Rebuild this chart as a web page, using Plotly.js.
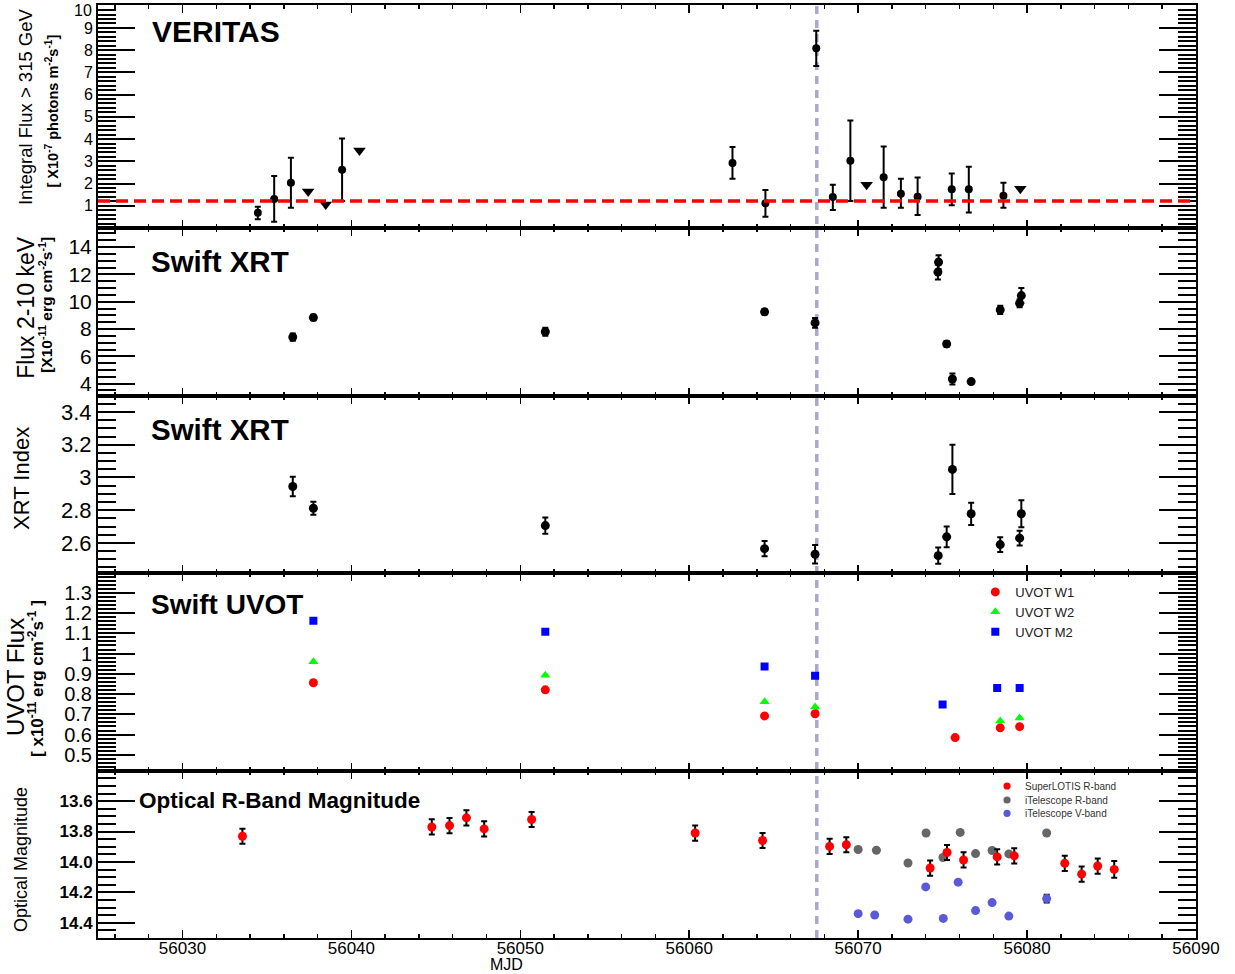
<!DOCTYPE html>
<html>
<head>
<meta charset="utf-8">
<script src="https://cdn.plot.ly/plotly-3.0.1.min.js"></script>
<style>html,body{margin:0;padding:0;background:#fff;}#chart{width:1235px;height:974px;}</style>
</head>
<body>
<div id="chart"></div>
<script>
// ---------------- DATA ----------------
// VERITAS integral flux > 315 GeV [1e-7 photons m^-2 s^-1]
const vtsX = [56034.46, 56035.43, 56036.42, 56039.45, 56062.56, 56064.51, 56067.52, 56068.50, 56069.54, 56071.51, 56072.53, 56073.52, 56075.54, 56076.55, 56078.60];
const vtsY = [0.68, 1.30, 2.03, 2.62, 2.92, 1.11, 8.09, 1.39, 3.02, 2.28, 1.54, 1.41, 1.74, 1.74, 1.45];
const vtsErrUp = [0.28, 1.04, 1.13, 1.40, 0.72, 0.60, 0.78, 0.56, 1.81, 1.39, 0.67, 0.86, 0.71, 1.02, 0.59];
const vtsErrDn = [0.29, 1.02, 1.12, 1.41, 0.70, 0.61, 0.80, 0.58, 1.81, 1.37, 0.63, 0.83, 0.72, 1.04, 0.54];
const vtsUlX = [56037.44, 56038.48, 56040.48, 56070.50, 56079.60];
const vtsUlY = [1.64, 1.06, 3.49, 1.94, 1.77];
const vtsBaseline = 1.21;
const flareMJD = 56067.55;
const vtsTicks = [1, 2, 3, 4, 5, 6, 7, 8, 9, 10];
const vtsTickText = ['1', '2', '3', '4', '5', '6', '7', '8', '9', ''];
const vtsTopLabel = '10';

// Swift XRT flux 2-10 keV [1e-11 erg cm^-2 s^-1]
const xrtX = [56036.53, 56037.75, 56051.48, 56064.46, 56067.45, 56074.76, 56074.72, 56075.24, 56075.58, 56076.69, 56078.41, 56079.56, 56079.66];
const xrtFlux = [7.41, 8.84, 7.80, 9.26, 8.45, 12.90, 12.17, 6.91, 4.34, 4.15, 9.40, 9.89, 10.45];
const xrtFluxErr = [0.27, 0.20, 0.30, 0.20, 0.35, 0.50, 0.55, 0.22, 0.40, 0.12, 0.30, 0.30, 0.55];

// Swift XRT photon index
const idxX = [56036.53, 56037.75, 56051.48, 56064.46, 56067.45, 56074.74, 56075.24, 56075.58, 56076.69, 56078.41, 56079.56, 56079.66];
const xrtIdx = [2.945, 2.812, 2.706, 2.565, 2.531, 2.522, 2.637, 3.049, 2.778, 2.590, 2.629, 2.778];
const xrtIdxErr = [0.060, 0.040, 0.050, 0.046, 0.057, 0.050, 0.063, 0.150, 0.068, 0.045, 0.045, 0.083];

// Swift UVOT flux [1e-11 erg cm^-2 s^-1]
const w1X = [56037.75, 56051.48, 56064.46, 56067.45, 56075.74, 56078.41, 56079.56];
const w1Y = [0.856, 0.821, 0.692, 0.703, 0.585, 0.633, 0.639];
const w2X = [56037.75, 56051.48, 56064.46, 56067.45, 56078.41, 56079.56];
const w2Y = [0.959, 0.893, 0.762, 0.736, 0.667, 0.682];
const m2X = [56037.75, 56051.48, 56064.46, 56067.45, 56075.00, 56078.23, 56079.56];
const m2Y = [1.162, 1.108, 0.936, 0.890, 0.749, 0.830, 0.830];

// Optical magnitudes
const slX = [56033.55, 56044.76, 56045.81, 56046.81, 56047.86, 56050.67, 56060.35, 56064.34, 56068.31, 56069.30, 56074.26, 56075.26, 56076.24, 56078.23, 56079.24, 56082.23, 56083.23, 56084.18, 56085.16];
const slY = [13.831, 13.770, 13.761, 13.710, 13.783, 13.721, 13.810, 13.859, 13.898, 13.887, 14.040, 13.938, 13.987, 13.967, 13.960, 14.009, 14.080, 14.027, 14.049];
const slErr = [0.05, 0.05, 0.05, 0.05, 0.05, 0.05, 0.05, 0.05, 0.05, 0.05, 0.05, 0.05, 0.05, 0.05, 0.05, 0.05, 0.05, 0.05, 0.055];
const itRX = [56070.00, 56071.08, 56072.95, 56074.02, 56075.02, 56076.04, 56076.95, 56077.93, 56078.92, 56081.16];
const itRY = [13.918, 13.923, 14.007, 13.810, 13.971, 13.806, 13.945, 13.925, 13.947, 13.810];
const itRErr = [0, 0, 0, 0, 0.01, 0, 0.01, 0, 0.012, 0.012];
const itVX = [56070.00, 56070.98, 56072.95, 56074.00, 56075.04, 56075.92, 56076.95, 56077.93, 56078.92, 56081.16];
const itVY = [14.340, 14.349, 14.376, 14.164, 14.371, 14.133, 14.320, 14.267, 14.356, 14.241];
const itVErr = [0, 0, 0, 0, 0, 0.012, 0, 0, 0.01, 0.025];

// Optical legend entries (name, colour)
const optNames = ['SuperLOTIS R-band', 'iTelescope R-band', 'iTelescope V-band'];
const optColors = ['#ff0000', '#666666', '#5a5ad8'];

// ---------------- STYLE ----------------
const FONT = 'Liberation Sans, Arial, Helvetica, sans-serif';
function eb(up, dn) {
  const o = {type: 'data', array: up, color: '#000', thickness: 2, width: 3, visible: true};
  if (dn) { o.symmetric = false; o.arrayminus = dn; }
  return o;
}
const traces = [
  {x: vtsX, y: vtsY, xaxis: 'x', yaxis: 'y', type: 'scatter', mode: 'markers', showlegend: false,
   marker: {color: '#000', size: 8, symbol: 'circle'}, error_y: eb(vtsErrUp, vtsErrDn)},
  {x: vtsUlX, y: vtsUlY, xaxis: 'x', yaxis: 'y', type: 'scatter', mode: 'markers', showlegend: false,
   marker: {color: '#000', size: 11, symbol: 'triangle-down'}},
  {x: xrtX, y: xrtFlux, xaxis: 'x2', yaxis: 'y2', type: 'scatter', mode: 'markers', showlegend: false,
   marker: {color: '#000', size: 9}, error_y: eb(xrtFluxErr)},
  {x: idxX, y: xrtIdx, xaxis: 'x3', yaxis: 'y3', type: 'scatter', mode: 'markers', showlegend: false,
   marker: {color: '#000', size: 9}, error_y: eb(xrtIdxErr)},
  {x: w1X, y: w1Y, xaxis: 'x4', yaxis: 'y4', type: 'scatter', mode: 'markers', name: 'UVOT W1',
   marker: {color: '#ff0000', size: 9, symbol: 'circle'}},
  {x: w2X, y: w2Y, xaxis: 'x4', yaxis: 'y4', type: 'scatter', mode: 'markers', name: 'UVOT W2',
   marker: {color: '#00ff00', size: 9, symbol: 'triangle-up'}},
  {x: m2X, y: m2Y, xaxis: 'x4', yaxis: 'y4', type: 'scatter', mode: 'markers', name: 'UVOT M2',
   marker: {color: '#0000ff', size: 8, symbol: 'square'}},
  {x: itRX, y: itRY, xaxis: 'x5', yaxis: 'y5', type: 'scatter', mode: 'markers', name: optNames[1], showlegend: false,
   marker: {color: optColors[1], size: 9}, error_y: eb(itRErr)},
  {x: itVX, y: itVY, xaxis: 'x5', yaxis: 'y5', type: 'scatter', mode: 'markers', name: optNames[2], showlegend: false,
   marker: {color: optColors[2], size: 9}, error_y: eb(itVErr)},
  {x: slX, y: slY, xaxis: 'x5', yaxis: 'y5', type: 'scatter', mode: 'markers', name: optNames[0], showlegend: false,
   marker: {color: optColors[0], size: 9}, error_y: eb(slErr)}
];

const domains = [[0.761, 1.0], [0.581, 0.761], [0.391, 0.581], [0.179, 0.391], [0.0, 0.179]];
function xAx(i) {
  const a = {
    domain: [0, 1], range: [56025, 56090], anchor: 'y' + (i === 1 ? '' : i),
    showline: true, linecolor: '#000', linewidth: 2, mirror: 'ticks',
    ticks: 'inside', ticklen: 8, tickwidth: 1.5, tickcolor: '#000', dtick: 10, tick0: 56000,
    minor: {dtick: 2, ticklen: 4, tickwidth: 1.5, tickcolor: '#000', ticks: 'inside', showgrid: false},
    showgrid: false, zeroline: false, showticklabels: i === 5, tickformat: 'd',
    ticklabelstandoff: -6,
    tickfont: {family: FONT, size: 17, color: '#000'}
  };
  if (i !== 1) a.matches = 'x';
  return a;
}
function yAx(i, opts) {
  return Object.assign({
    domain: domains[i - 1], anchor: 'x' + (i === 1 ? '' : i), autorange: false,
    showline: true, linecolor: '#000', linewidth: 2, mirror: 'ticks',
    ticks: 'inside', ticklen: 37, tickwidth: 2, tickcolor: '#000',
    showgrid: false, zeroline: false, tick0: 0
  }, opts);
}

const annotations = [
  {xref: 'paper', yref: 'paper', x: 0.0474, y: 0.9721, xanchor: 'left', yanchor: 'middle', showarrow: false,
   text: '<b>VERITAS</b>', font: {family: FONT, size: 30}},
  {xref: 'paper', yref: 'paper', x: 0.0465, y: 0.7256, xanchor: 'left', yanchor: 'middle', showarrow: false,
   text: '<b>Swift XRT</b>', font: {family: FONT, size: 29.5}},
  {xref: 'paper', yref: 'paper', x: 0.0465, y: 0.5445, xanchor: 'left', yanchor: 'middle', showarrow: false,
   text: '<b>Swift XRT</b>', font: {family: FONT, size: 29.5}},
  {xref: 'paper', yref: 'paper', x: 0.0465, y: 0.3574, xanchor: 'left', yanchor: 'middle', showarrow: false,
   text: '<b>Swift UVOT</b>', font: {family: FONT, size: 28}},
  {xref: 'paper', yref: 'paper', x: 0.0352, y: 0.1479, xanchor: 'left', yanchor: 'middle', showarrow: false,
   text: '<b>Optical R-Band Magnitude</b>', font: {family: FONT, size: 22.5}},
  // top tick label of VERITAS axis, nudged down so it stays inside the page
  {xref: 'paper', yref: 'paper', x: -0.0045, y: 0.9943, xanchor: 'right', yanchor: 'middle', showarrow: false,
   text: vtsTopLabel, font: {family: FONT, size: 16}, borderpad: 0},
  // y-axis titles
  {xref: 'paper', yref: 'paper', x: -0.0665, y: 0.8917, xanchor: 'center', yanchor: 'middle', textangle: -90, showarrow: false,
   text: 'Integral Flux &gt; 315 GeV', font: {family: FONT, size: 18.5}},
  {xref: 'paper', yref: 'paper', x: -0.042, y: 0.8868, xanchor: 'center', yanchor: 'middle', textangle: -90, showarrow: false,
   text: '<b>[ X10<sup>-7</sup> photons m<sup>-2</sup>s<sup>-1</sup>]</b>', font: {family: FONT, size: 14.5}},
  {xref: 'paper', yref: 'paper', x: -0.0655, y: 0.6755, xanchor: 'center', yanchor: 'middle', textangle: -90, showarrow: false,
   text: 'Flux 2-10 keV', font: {family: FONT, size: 23}},
  {xref: 'paper', yref: 'paper', x: -0.0475, y: 0.6785, xanchor: 'center', yanchor: 'middle', textangle: -90, showarrow: false,
   text: '<b>[X10<sup>-11</sup> erg cm<sup>-2</sup>s<sup>-1</sup>]</b>', font: {family: FONT, size: 15.5}},
  {xref: 'paper', yref: 'paper', x: -0.0692, y: 0.492, xanchor: 'center', yanchor: 'middle', textangle: -90, showarrow: false,
   text: 'XRT Index', font: {family: FONT, size: 22}},
  {xref: 'paper', yref: 'paper', x: -0.0756, y: 0.2797, xanchor: 'center', yanchor: 'middle', textangle: -90, showarrow: false,
   text: 'UVOT Flux', font: {family: FONT, size: 24}},
  {xref: 'paper', yref: 'paper', x: -0.0565, y: 0.2787, xanchor: 'center', yanchor: 'middle', textangle: -90, showarrow: false,
   text: '<b>[ x10<sup>-11</sup> erg cm<sup>-2</sup>s<sup>-1</sup> ]</b>', font: {family: FONT, size: 17}},
  {xref: 'paper', yref: 'paper', x: -0.0701, y: 0.0836, xanchor: 'center', yanchor: 'middle', textangle: -90, showarrow: false,
   text: 'Optical Magnitude', font: {family: FONT, size: 18}},
  {xref: 'paper', yref: 'paper', x: 0.3716, y: -0.0285, xanchor: 'center', yanchor: 'middle', showarrow: false,
   text: 'MJD', font: {family: FONT, size: 16}}
];

// optical legend built from shapes + annotations
const optLegendX = 0.8279, optTextX = 0.8424;
const optRowY = [0.1629, 0.1479, 0.1336];
const shapes = [
  {type: 'line', xref: 'x', yref: 'paper', x0: flareMJD, x1: flareMJD, y0: 0, y1: 1,
   line: {color: '#a9a9c9', width: 3.5, dash: '8px,6px'}, layer: 'below'},
  {type: 'line', xref: 'paper', yref: 'y', x0: 0, x1: 1, y0: vtsBaseline, y1: vtsBaseline,
   line: {color: '#ff0000', width: 3.5, dash: '12px,6px'}, layer: 'above'}
];
optNames.forEach(function (nm, k) {
  shapes.push({type: 'circle', xref: 'paper', yref: 'paper', xsizemode: 'pixel', ysizemode: 'pixel',
    xanchor: optLegendX, yanchor: optRowY[k], x0: -3.6, x1: 3.6, y0: -3.6, y1: 3.6,
    fillcolor: optColors[k], line: {width: 0}, layer: 'above'});
  annotations.push({xref: 'paper', yref: 'paper', x: optTextX, y: optRowY[k], xanchor: 'left', yanchor: 'middle',
    showarrow: false, text: nm, font: {family: FONT, size: 10, color: '#333'}});
});

const layout = {
  width: 1235, height: 974,
  margin: {l: 98, r: 39, t: 5, b: 36},
  paper_bgcolor: '#fff', plot_bgcolor: 'rgba(0,0,0,0)',
  font: {family: FONT, color: '#000'},
  showlegend: true,
  xaxis: xAx(1), xaxis2: xAx(2), xaxis3: xAx(3), xaxis4: xAx(4), xaxis5: xAx(5),
  yaxis: yAx(1, {range: [0, 10.03], tickmode: 'array', tickvals: vtsTicks, ticktext: vtsTickText,
    minor: {tickmode: 'linear', tick0: 0, dtick: 0.2, ticklen: 18, tickwidth: 2, tickcolor: '#000', ticks: 'inside'},
    tickfont: {family: FONT, size: 16}}),
  yaxis2: yAx(2, {range: [3.1, 15.4], dtick: 2,
    minor: {dtick: 0.5, ticklen: 18, tickwidth: 2, tickcolor: '#000', ticks: 'inside'},
    tickfont: {family: FONT, size: 21}}),
  yaxis3: yAx(3, {range: [2.415, 3.498], dtick: 0.2,
    minor: {dtick: 0.05, ticklen: 18, tickwidth: 2, tickcolor: '#000', ticks: 'inside'},
    tickfont: {family: FONT, size: 22}}),
  yaxis4: yAx(4, {range: [0.42, 1.397], dtick: 0.1,
    minor: {dtick: 0.02, ticklen: 18, tickwidth: 2, tickcolor: '#000', ticks: 'inside'},
    tickfont: {family: FONT, size: 20}}),
  yaxis5: yAx(5, {range: [14.5, 13.402], dtick: 0.2, tickformat: '.1f',
    minor: {dtick: 0.05, ticklen: 18, tickwidth: 2, tickcolor: '#000', ticks: 'inside'},
    tickfont: {family: FONT, size: 17, weight: 'bold'}}),
  legend: {x: 0.799, y: 0.387, xanchor: 'left', yanchor: 'top', bgcolor: 'rgba(0,0,0,0)',
    font: {family: FONT, size: 13, color: '#222'}, tracegroupgap: 0, itemwidth: 30},
  shapes: shapes,
  annotations: annotations
};
Plotly.newPlot('chart', traces, layout, {displayModeBar: false, staticPlot: true});
</script>
</body>
</html>
